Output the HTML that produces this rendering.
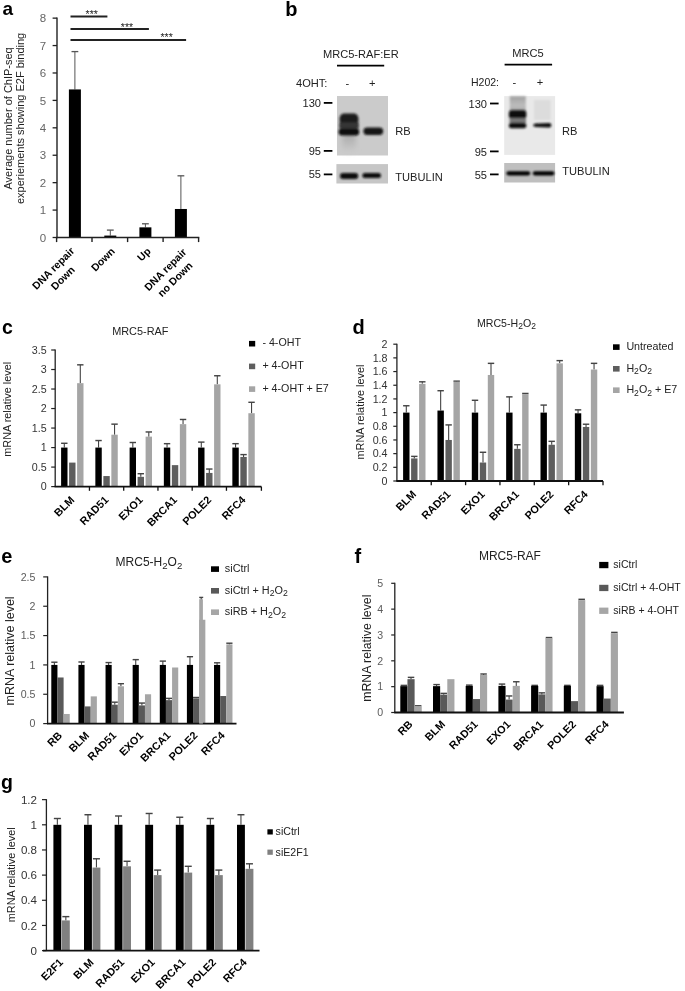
<!DOCTYPE html>
<html><head><meta charset="utf-8"><title>Figure</title>
<style>html,body{margin:0;padding:0;background:#fff;} svg{display:block;}</style></head>
<body><svg width="685" height="991" viewBox="0 0 685 991" font-family='"Liberation Sans", Arial, sans-serif'>
<defs>
<filter id="blur1" x="-20%" y="-50%" width="140%" height="200%"><feGaussianBlur stdDeviation="0.8"/></filter>
<filter id="blur4" x="-50%" y="-50%" width="200%" height="200%"><feGaussianBlur stdDeviation="2.5"/></filter>
<filter id="blur2" x="-10%" y="-10%" width="120%" height="120%"><feGaussianBlur stdDeviation="0.5"/></filter>
<filter id="blur3" x="-30%" y="-30%" width="160%" height="160%"><feGaussianBlur stdDeviation="1.3"/></filter>
</defs>
<rect x="0" y="0" width="685" height="991" fill="#fff"/>
<text x="2.40" y="15.00" font-size="19" fill="#000" text-anchor="start" font-weight="bold" font-family='"Liberation Sans", Arial, sans-serif'>a</text>
<text x="11.80" y="118.40" font-size="11" fill="#222" text-anchor="middle" transform="rotate(-90 11.80 118.40)" font-family='"Liberation Sans", Arial, sans-serif'>Average number of ChIP-seq</text>
<text x="24.10" y="118.40" font-size="11" fill="#222" text-anchor="middle" transform="rotate(-90 24.10 118.40)" font-family='"Liberation Sans", Arial, sans-serif'>experiements showing E2F binding</text>
<line x1="52.60" y1="237.50" x2="57.00" y2="237.50" stroke="#222" stroke-width="1.3"/>
<text x="46.10" y="241.60" font-size="11.5" fill="#666" text-anchor="end" font-family='"Liberation Sans", Arial, sans-serif'>0</text>
<line x1="52.60" y1="210.08" x2="57.00" y2="210.08" stroke="#222" stroke-width="1.3"/>
<text x="46.10" y="214.18" font-size="11.5" fill="#666" text-anchor="end" font-family='"Liberation Sans", Arial, sans-serif'>1</text>
<line x1="52.60" y1="182.66" x2="57.00" y2="182.66" stroke="#222" stroke-width="1.3"/>
<text x="46.10" y="186.76" font-size="11.5" fill="#666" text-anchor="end" font-family='"Liberation Sans", Arial, sans-serif'>2</text>
<line x1="52.60" y1="155.24" x2="57.00" y2="155.24" stroke="#222" stroke-width="1.3"/>
<text x="46.10" y="159.34" font-size="11.5" fill="#666" text-anchor="end" font-family='"Liberation Sans", Arial, sans-serif'>3</text>
<line x1="52.60" y1="127.82" x2="57.00" y2="127.82" stroke="#222" stroke-width="1.3"/>
<text x="46.10" y="131.92" font-size="11.5" fill="#666" text-anchor="end" font-family='"Liberation Sans", Arial, sans-serif'>4</text>
<line x1="52.60" y1="100.40" x2="57.00" y2="100.40" stroke="#222" stroke-width="1.3"/>
<text x="46.10" y="104.50" font-size="11.5" fill="#666" text-anchor="end" font-family='"Liberation Sans", Arial, sans-serif'>5</text>
<line x1="52.60" y1="72.98" x2="57.00" y2="72.98" stroke="#222" stroke-width="1.3"/>
<text x="46.10" y="77.08" font-size="11.5" fill="#666" text-anchor="end" font-family='"Liberation Sans", Arial, sans-serif'>6</text>
<line x1="52.60" y1="45.56" x2="57.00" y2="45.56" stroke="#222" stroke-width="1.3"/>
<text x="46.10" y="49.66" font-size="11.5" fill="#666" text-anchor="end" font-family='"Liberation Sans", Arial, sans-serif'>7</text>
<line x1="52.60" y1="18.14" x2="57.00" y2="18.14" stroke="#222" stroke-width="1.3"/>
<text x="46.10" y="22.24" font-size="11.5" fill="#666" text-anchor="end" font-family='"Liberation Sans", Arial, sans-serif'>8</text>
<line x1="74.90" y1="89.43" x2="74.90" y2="51.59" stroke="#555" stroke-width="1.0"/>
<line x1="71.50" y1="51.59" x2="78.30" y2="51.59" stroke="#555" stroke-width="1.3"/>
<rect x="68.90" y="89.43" width="12.00" height="148.07" fill="#000"/>
<line x1="110.30" y1="235.58" x2="110.30" y2="230.10" stroke="#555" stroke-width="1.0"/>
<line x1="106.90" y1="230.10" x2="113.70" y2="230.10" stroke="#555" stroke-width="1.3"/>
<rect x="104.30" y="235.58" width="12.00" height="1.92" fill="#000"/>
<line x1="145.40" y1="227.35" x2="145.40" y2="223.79" stroke="#555" stroke-width="1.0"/>
<line x1="142.00" y1="223.79" x2="148.80" y2="223.79" stroke="#555" stroke-width="1.3"/>
<rect x="139.40" y="227.35" width="12.00" height="10.15" fill="#000"/>
<line x1="180.90" y1="208.98" x2="180.90" y2="175.81" stroke="#555" stroke-width="1.0"/>
<line x1="177.50" y1="175.81" x2="184.30" y2="175.81" stroke="#555" stroke-width="1.3"/>
<rect x="174.90" y="208.98" width="12.00" height="28.52" fill="#000"/>
<line x1="57.00" y1="17.40" x2="57.00" y2="238.20" stroke="#222" stroke-width="1.4"/>
<line x1="56.30" y1="237.50" x2="199.30" y2="237.50" stroke="#222" stroke-width="1.6"/>
<line x1="56.60" y1="237.50" x2="56.60" y2="242.10" stroke="#222" stroke-width="1.4"/>
<line x1="92.00" y1="237.50" x2="92.00" y2="242.10" stroke="#222" stroke-width="1.4"/>
<line x1="127.60" y1="237.50" x2="127.60" y2="242.10" stroke="#222" stroke-width="1.4"/>
<line x1="163.10" y1="237.50" x2="163.10" y2="242.10" stroke="#222" stroke-width="1.4"/>
<line x1="198.60" y1="237.50" x2="198.60" y2="242.10" stroke="#222" stroke-width="1.4"/>
<line x1="70.50" y1="16.50" x2="107.40" y2="16.50" stroke="#222" stroke-width="1.8"/>
<text x="91.70" y="18.10" font-size="10.5" fill="#222" text-anchor="middle" font-family='"Liberation Sans", Arial, sans-serif'>***</text>
<line x1="70.50" y1="29.00" x2="148.90" y2="29.00" stroke="#222" stroke-width="1.8"/>
<text x="127.00" y="30.80" font-size="10.5" fill="#222" text-anchor="middle" font-family='"Liberation Sans", Arial, sans-serif'>***</text>
<line x1="70.50" y1="40.00" x2="186.10" y2="40.00" stroke="#222" stroke-width="1.8"/>
<text x="166.60" y="40.70" font-size="10.5" fill="#222" text-anchor="middle" font-family='"Liberation Sans", Arial, sans-serif'>***</text>
<g transform="rotate(-45 55.85 270.95)">
<text font-size="10.5" font-weight="bold" text-anchor="middle" font-family='"Liberation Sans", Arial, sans-serif' fill="#000"><tspan x="55.85" y="270.95">DNA repair</tspan><tspan x="55.85" y="284.55">Down</tspan></text>
</g>
<text x="115.60" y="251.90" font-size="10.5" fill="#000" text-anchor="end" font-weight="bold" transform="rotate(-45 115.60 251.90)" font-family='"Liberation Sans", Arial, sans-serif'>Down</text>
<text x="151.50" y="251.90" font-size="10.5" fill="#000" text-anchor="end" font-weight="bold" transform="rotate(-45 151.50 251.90)" font-family='"Liberation Sans", Arial, sans-serif'>Up</text>
<g transform="rotate(-45 167.95 272.15)">
<text font-size="10.5" font-weight="bold" text-anchor="middle" font-family='"Liberation Sans", Arial, sans-serif' fill="#000"><tspan x="167.95" y="272.15">DNA repair</tspan><tspan x="167.95" y="285.75">no Down</tspan></text>
</g>
<text x="285.20" y="16.00" font-size="20" fill="#000" text-anchor="start" font-weight="bold" font-family='"Liberation Sans", Arial, sans-serif'>b</text>
<text x="360.80" y="58.40" font-size="11.1" fill="#222" text-anchor="middle" font-family='"Liberation Sans", Arial, sans-serif'>MRC5-RAF:ER</text>
<line x1="337.00" y1="65.70" x2="384.20" y2="65.70" stroke="#000" stroke-width="1.8"/>
<text x="296.00" y="87.00" font-size="11.1" fill="#222" text-anchor="start" font-family='"Liberation Sans", Arial, sans-serif'>4OHT:</text>
<text x="347.30" y="87.00" font-size="11.1" fill="#222" text-anchor="middle" font-family='"Liberation Sans", Arial, sans-serif'>-</text>
<text x="372.30" y="87.00" font-size="11.1" fill="#222" text-anchor="middle" font-family='"Liberation Sans", Arial, sans-serif'>+</text>
<text x="321.00" y="106.70" font-size="11.1" fill="#222" text-anchor="end" font-family='"Liberation Sans", Arial, sans-serif'>130</text>
<line x1="323.80" y1="102.90" x2="332.40" y2="102.90" stroke="#000" stroke-width="1.8"/>
<text x="321.00" y="154.70" font-size="11.1" fill="#222" text-anchor="end" font-family='"Liberation Sans", Arial, sans-serif'>95</text>
<line x1="323.80" y1="150.90" x2="332.40" y2="150.90" stroke="#000" stroke-width="1.8"/>
<text x="321.00" y="178.20" font-size="11.1" fill="#222" text-anchor="end" font-family='"Liberation Sans", Arial, sans-serif'>55</text>
<line x1="323.80" y1="174.40" x2="332.40" y2="174.40" stroke="#000" stroke-width="1.8"/>
<text x="395.30" y="135.20" font-size="11.1" fill="#222" text-anchor="start" font-family='"Liberation Sans", Arial, sans-serif'>RB</text>
<text x="395.30" y="180.60" font-size="11.1" fill="#222" text-anchor="start" font-family='"Liberation Sans", Arial, sans-serif'>TUBULIN</text>
<g filter="url(#blur2)">
<rect x="337.00" y="96.00" width="51.00" height="59.50" fill="#cbcbcb"/>
</g>
<defs><linearGradient id="tail" x1="0" y1="0" x2="0" y2="1"><stop offset="0" stop-color="#a8a8a8"/><stop offset="1" stop-color="#cbcbcb"/></linearGradient></defs>
<g filter="url(#blur4)">
<rect x="342" y="133" width="14" height="19" rx="5" fill="url(#tail)"/>
</g>
<g filter="url(#blur1)">
<rect x="339.6" y="113.6" width="18.8" height="11.5" rx="4.5" fill="#1c1c1c"/>
<rect x="339.2" y="122.5" width="19.6" height="6" fill="#363636"/>
<rect x="338.6" y="128.3" width="20.6" height="7.2" rx="3.5" fill="#0e0e0e"/>
<rect x="363.4" y="127.5" width="19.8" height="7.4" rx="3.7" fill="#141414"/>
</g>
<g filter="url(#blur2)">
<rect x="336.40" y="164.10" width="51.60" height="19.40" fill="#c6c6c6"/>
</g>
<g filter="url(#blur1)">
<rect x="340.0" y="172.9" width="18.2" height="6.0" rx="3.0" fill="#080808"/>
<rect x="362.4" y="172.9" width="18.6" height="5.0" rx="2.5" fill="#0a0a0a"/>
</g>
<text x="528.00" y="57.00" font-size="11.1" fill="#222" text-anchor="middle" font-family='"Liberation Sans", Arial, sans-serif'>MRC5</text>
<line x1="504.60" y1="64.60" x2="552.10" y2="64.60" stroke="#000" stroke-width="1.8"/>
<text x="471.00" y="86.00" font-size="10.5" fill="#222" text-anchor="start" font-family='"Liberation Sans", Arial, sans-serif'>H202:</text>
<text x="514.40" y="86.00" font-size="11.1" fill="#222" text-anchor="middle" font-family='"Liberation Sans", Arial, sans-serif'>-</text>
<text x="540.00" y="86.00" font-size="11.1" fill="#222" text-anchor="middle" font-family='"Liberation Sans", Arial, sans-serif'>+</text>
<text x="487.00" y="108.10" font-size="11.1" fill="#222" text-anchor="end" font-family='"Liberation Sans", Arial, sans-serif'>130</text>
<line x1="490.00" y1="103.50" x2="498.60" y2="103.50" stroke="#000" stroke-width="1.8"/>
<text x="487.00" y="156.00" font-size="11.1" fill="#222" text-anchor="end" font-family='"Liberation Sans", Arial, sans-serif'>95</text>
<line x1="490.00" y1="151.40" x2="498.60" y2="151.40" stroke="#000" stroke-width="1.8"/>
<text x="487.00" y="179.00" font-size="11.1" fill="#222" text-anchor="end" font-family='"Liberation Sans", Arial, sans-serif'>55</text>
<line x1="490.00" y1="174.40" x2="498.60" y2="174.40" stroke="#000" stroke-width="1.8"/>
<text x="562.00" y="135.00" font-size="11.1" fill="#222" text-anchor="start" font-family='"Liberation Sans", Arial, sans-serif'>RB</text>
<text x="562.20" y="175.00" font-size="11.1" fill="#222" text-anchor="start" font-family='"Liberation Sans", Arial, sans-serif'>TUBULIN</text>
<g filter="url(#blur2)">
<rect x="504.20" y="96.10" width="50.90" height="58.80" fill="#e9e9e9"/>
</g>
<defs><linearGradient id="smear" x1="0" y1="0" x2="0" y2="1"><stop offset="0" stop-color="#a0a0a0"/><stop offset="0.55" stop-color="#bdbdbd"/><stop offset="1" stop-color="#a8a8a8"/></linearGradient></defs>
<g filter="url(#blur3)">
<rect x="509.8" y="96.3" width="16" height="16" fill="url(#smear)"/>
<rect x="534" y="100" width="16.5" height="20" fill="#dcdcdc"/>
</g>
<g filter="url(#blur1)">
<rect x="508.9" y="110.3" width="17.4" height="8.6" rx="3" fill="#0e0e0e"/>
<rect x="509.5" y="118.2" width="16.5" height="5.0" fill="#7a7a7a"/>
<rect x="508.9" y="122.7" width="17.4" height="5.6" rx="2.5" fill="#0a0a0a"/>
<path d="M533.2 125.3 Q533.2 123.6 536 123.6 L549 123.0 Q551.4 123.0 551.4 125.2 Q551.4 127.4 549 127.4 L536 127.1 Q533.2 127.1 533.2 125.3 Z" fill="#0c0c0c"/>
</g>
<g filter="url(#blur2)">
<rect x="504.20" y="163.00" width="50.90" height="19.50" fill="#bfbfbf"/>
</g>
<g filter="url(#blur1)">
<rect x="506.4" y="171.2" width="23.8" height="4.2" rx="2.1" fill="#060606"/>
<rect x="532.8" y="171.2" width="21.6" height="4.2" rx="2.1" fill="#060606"/>
</g>
<text x="1.90" y="333.80" font-size="19.5" fill="#000" text-anchor="start" font-weight="bold" font-family='"Liberation Sans", Arial, sans-serif'>c</text>
<line x1="51.20" y1="486.60" x2="55.20" y2="486.60" stroke="#222" stroke-width="1.2"/>
<text x="46.60" y="490.45" font-size="10.7" fill="#333" text-anchor="end" font-family='"Liberation Sans", Arial, sans-serif'>0</text>
<line x1="51.20" y1="467.09" x2="55.20" y2="467.09" stroke="#222" stroke-width="1.2"/>
<text x="46.60" y="470.94" font-size="10.7" fill="#333" text-anchor="end" font-family='"Liberation Sans", Arial, sans-serif'>0.5</text>
<line x1="51.20" y1="447.57" x2="55.20" y2="447.57" stroke="#222" stroke-width="1.2"/>
<text x="46.60" y="451.42" font-size="10.7" fill="#333" text-anchor="end" font-family='"Liberation Sans", Arial, sans-serif'>1</text>
<line x1="51.20" y1="428.06" x2="55.20" y2="428.06" stroke="#222" stroke-width="1.2"/>
<text x="46.60" y="431.91" font-size="10.7" fill="#333" text-anchor="end" font-family='"Liberation Sans", Arial, sans-serif'>1.5</text>
<line x1="51.20" y1="408.54" x2="55.20" y2="408.54" stroke="#222" stroke-width="1.2"/>
<text x="46.60" y="412.39" font-size="10.7" fill="#333" text-anchor="end" font-family='"Liberation Sans", Arial, sans-serif'>2</text>
<line x1="51.20" y1="389.03" x2="55.20" y2="389.03" stroke="#222" stroke-width="1.2"/>
<text x="46.60" y="392.88" font-size="10.7" fill="#333" text-anchor="end" font-family='"Liberation Sans", Arial, sans-serif'>2.5</text>
<line x1="51.20" y1="369.51" x2="55.20" y2="369.51" stroke="#222" stroke-width="1.2"/>
<text x="46.60" y="373.36" font-size="10.7" fill="#333" text-anchor="end" font-family='"Liberation Sans", Arial, sans-serif'>3</text>
<line x1="51.20" y1="350.00" x2="55.20" y2="350.00" stroke="#222" stroke-width="1.2"/>
<text x="46.60" y="353.85" font-size="10.7" fill="#333" text-anchor="end" font-family='"Liberation Sans", Arial, sans-serif'>3.5</text>
<line x1="64.30" y1="447.57" x2="64.30" y2="443.28" stroke="#444" stroke-width="1.1"/>
<line x1="61.10" y1="443.28" x2="67.50" y2="443.28" stroke="#444" stroke-width="1.4300000000000002"/>
<rect x="61.10" y="447.57" width="6.40" height="39.03" fill="#000"/>
<rect x="69.10" y="462.60" width="6.40" height="24.00" fill="#5e5e5e"/>
<line x1="80.30" y1="383.17" x2="80.30" y2="364.83" stroke="#444" stroke-width="1.1"/>
<line x1="77.10" y1="364.83" x2="83.50" y2="364.83" stroke="#444" stroke-width="1.4300000000000002"/>
<rect x="77.10" y="383.17" width="6.40" height="103.43" fill="#a5a5a5"/>
<line x1="98.55" y1="447.57" x2="98.55" y2="440.54" stroke="#444" stroke-width="1.1"/>
<line x1="95.35" y1="440.54" x2="101.75" y2="440.54" stroke="#444" stroke-width="1.4300000000000002"/>
<rect x="95.35" y="447.57" width="6.40" height="39.03" fill="#000"/>
<rect x="103.35" y="476.06" width="6.40" height="10.54" fill="#5e5e5e"/>
<line x1="114.55" y1="434.69" x2="114.55" y2="424.15" stroke="#444" stroke-width="1.1"/>
<line x1="111.35" y1="424.15" x2="117.75" y2="424.15" stroke="#444" stroke-width="1.4300000000000002"/>
<rect x="111.35" y="434.69" width="6.40" height="51.91" fill="#a5a5a5"/>
<line x1="132.80" y1="447.57" x2="132.80" y2="442.50" stroke="#444" stroke-width="1.1"/>
<line x1="129.60" y1="442.50" x2="136.00" y2="442.50" stroke="#444" stroke-width="1.4300000000000002"/>
<rect x="129.60" y="447.57" width="6.40" height="39.03" fill="#000"/>
<line x1="140.80" y1="476.84" x2="140.80" y2="473.72" stroke="#444" stroke-width="1.1"/>
<line x1="137.60" y1="473.72" x2="144.00" y2="473.72" stroke="#444" stroke-width="1.4300000000000002"/>
<rect x="137.60" y="476.84" width="6.40" height="9.76" fill="#5e5e5e"/>
<line x1="148.80" y1="436.64" x2="148.80" y2="431.96" stroke="#444" stroke-width="1.1"/>
<line x1="145.60" y1="431.96" x2="152.00" y2="431.96" stroke="#444" stroke-width="1.4300000000000002"/>
<rect x="145.60" y="436.64" width="6.40" height="49.96" fill="#a5a5a5"/>
<line x1="167.05" y1="447.57" x2="167.05" y2="443.67" stroke="#444" stroke-width="1.1"/>
<line x1="163.85" y1="443.67" x2="170.25" y2="443.67" stroke="#444" stroke-width="1.4300000000000002"/>
<rect x="163.85" y="447.57" width="6.40" height="39.03" fill="#000"/>
<rect x="171.85" y="465.13" width="6.40" height="21.47" fill="#5e5e5e"/>
<line x1="183.05" y1="424.15" x2="183.05" y2="419.47" stroke="#444" stroke-width="1.1"/>
<line x1="179.85" y1="419.47" x2="186.25" y2="419.47" stroke="#444" stroke-width="1.4300000000000002"/>
<rect x="179.85" y="424.15" width="6.40" height="62.45" fill="#a5a5a5"/>
<line x1="201.30" y1="447.57" x2="201.30" y2="442.11" stroke="#444" stroke-width="1.1"/>
<line x1="198.10" y1="442.11" x2="204.50" y2="442.11" stroke="#444" stroke-width="1.4300000000000002"/>
<rect x="198.10" y="447.57" width="6.40" height="39.03" fill="#000"/>
<line x1="209.30" y1="472.94" x2="209.30" y2="469.04" stroke="#444" stroke-width="1.1"/>
<line x1="206.10" y1="469.04" x2="212.50" y2="469.04" stroke="#444" stroke-width="1.4300000000000002"/>
<rect x="206.10" y="472.94" width="6.40" height="13.66" fill="#5e5e5e"/>
<line x1="217.30" y1="384.34" x2="217.30" y2="375.75" stroke="#444" stroke-width="1.1"/>
<line x1="214.10" y1="375.75" x2="220.50" y2="375.75" stroke="#444" stroke-width="1.4300000000000002"/>
<rect x="214.10" y="384.34" width="6.40" height="102.26" fill="#a5a5a5"/>
<line x1="235.55" y1="447.57" x2="235.55" y2="443.67" stroke="#444" stroke-width="1.1"/>
<line x1="232.35" y1="443.67" x2="238.75" y2="443.67" stroke="#444" stroke-width="1.4300000000000002"/>
<rect x="232.35" y="447.57" width="6.40" height="39.03" fill="#000"/>
<line x1="243.55" y1="456.94" x2="243.55" y2="454.60" stroke="#444" stroke-width="1.1"/>
<line x1="240.35" y1="454.60" x2="246.75" y2="454.60" stroke="#444" stroke-width="1.4300000000000002"/>
<rect x="240.35" y="456.94" width="6.40" height="29.66" fill="#5e5e5e"/>
<line x1="251.55" y1="413.22" x2="251.55" y2="402.30" stroke="#444" stroke-width="1.1"/>
<line x1="248.35" y1="402.30" x2="254.75" y2="402.30" stroke="#444" stroke-width="1.4300000000000002"/>
<rect x="248.35" y="413.22" width="6.40" height="73.38" fill="#a5a5a5"/>
<line x1="55.20" y1="349.50" x2="55.20" y2="486.60" stroke="#222" stroke-width="1.3"/>
<line x1="54.60" y1="486.60" x2="261.40" y2="486.60" stroke="#111" stroke-width="1.8"/>
<line x1="89.45" y1="486.60" x2="89.45" y2="490.80" stroke="#111" stroke-width="1.3"/>
<line x1="123.70" y1="486.60" x2="123.70" y2="490.80" stroke="#111" stroke-width="1.3"/>
<line x1="157.95" y1="486.60" x2="157.95" y2="490.80" stroke="#111" stroke-width="1.3"/>
<line x1="192.20" y1="486.60" x2="192.20" y2="490.80" stroke="#111" stroke-width="1.3"/>
<line x1="226.45" y1="486.60" x2="226.45" y2="490.80" stroke="#111" stroke-width="1.3"/>
<line x1="261.40" y1="486.60" x2="261.40" y2="490.80" stroke="#111" stroke-width="1.3"/>
<text x="75.00" y="500.60" font-size="10.8" fill="#000" text-anchor="end" font-weight="bold" transform="rotate(-45 75.00 500.60)" font-family='"Liberation Sans", Arial, sans-serif'>BLM</text>
<text x="109.25" y="500.60" font-size="10.8" fill="#000" text-anchor="end" font-weight="bold" transform="rotate(-45 109.25 500.60)" font-family='"Liberation Sans", Arial, sans-serif'>RAD51</text>
<text x="143.50" y="500.60" font-size="10.8" fill="#000" text-anchor="end" font-weight="bold" transform="rotate(-45 143.50 500.60)" font-family='"Liberation Sans", Arial, sans-serif'>EXO1</text>
<text x="177.75" y="500.60" font-size="10.8" fill="#000" text-anchor="end" font-weight="bold" transform="rotate(-45 177.75 500.60)" font-family='"Liberation Sans", Arial, sans-serif'>BRCA1</text>
<text x="212.00" y="500.60" font-size="10.8" fill="#000" text-anchor="end" font-weight="bold" transform="rotate(-45 212.00 500.60)" font-family='"Liberation Sans", Arial, sans-serif'>POLE2</text>
<text x="246.25" y="500.60" font-size="10.8" fill="#000" text-anchor="end" font-weight="bold" transform="rotate(-45 246.25 500.60)" font-family='"Liberation Sans", Arial, sans-serif'>RFC4</text>
<text x="140.30" y="335.40" font-size="10.9" fill="#222" text-anchor="middle" font-family='"Liberation Sans", Arial, sans-serif'>MRC5-RAF</text>
<text x="10.90" y="409.30" font-size="10.9" fill="#222" text-anchor="middle" transform="rotate(-90 10.90 409.30)" font-family='"Liberation Sans", Arial, sans-serif'>mRNA relative level</text>
<rect x="249.00" y="340.90" width="6.20" height="5.60" fill="#000"/>
<text x="262.40" y="346.10" font-size="10.7" fill="#222" text-anchor="start" font-family='"Liberation Sans", Arial, sans-serif'>- 4-OHT</text>
<rect x="249.00" y="363.60" width="6.20" height="5.60" fill="#5e5e5e"/>
<text x="262.40" y="368.80" font-size="10.7" fill="#222" text-anchor="start" font-family='"Liberation Sans", Arial, sans-serif'>+ 4-OHT</text>
<rect x="249.00" y="386.30" width="6.20" height="5.60" fill="#a5a5a5"/>
<text x="262.40" y="391.50" font-size="10.7" fill="#222" text-anchor="start" font-family='"Liberation Sans", Arial, sans-serif'>+ 4-OHT + E7</text>
<text x="352.60" y="333.60" font-size="20" fill="#000" text-anchor="start" font-weight="bold" font-family='"Liberation Sans", Arial, sans-serif'>d</text>
<line x1="393.30" y1="481.00" x2="396.90" y2="481.00" stroke="#222" stroke-width="1.2"/>
<text x="387.50" y="484.85" font-size="10.7" fill="#333" text-anchor="end" font-family='"Liberation Sans", Arial, sans-serif'>0</text>
<line x1="393.30" y1="467.32" x2="396.90" y2="467.32" stroke="#222" stroke-width="1.2"/>
<text x="387.50" y="471.17" font-size="10.7" fill="#333" text-anchor="end" font-family='"Liberation Sans", Arial, sans-serif'>0.2</text>
<line x1="393.30" y1="453.64" x2="396.90" y2="453.64" stroke="#222" stroke-width="1.2"/>
<text x="387.50" y="457.49" font-size="10.7" fill="#333" text-anchor="end" font-family='"Liberation Sans", Arial, sans-serif'>0.4</text>
<line x1="393.30" y1="439.96" x2="396.90" y2="439.96" stroke="#222" stroke-width="1.2"/>
<text x="387.50" y="443.81" font-size="10.7" fill="#333" text-anchor="end" font-family='"Liberation Sans", Arial, sans-serif'>0.6</text>
<line x1="393.30" y1="426.28" x2="396.90" y2="426.28" stroke="#222" stroke-width="1.2"/>
<text x="387.50" y="430.13" font-size="10.7" fill="#333" text-anchor="end" font-family='"Liberation Sans", Arial, sans-serif'>0.8</text>
<line x1="393.30" y1="412.60" x2="396.90" y2="412.60" stroke="#222" stroke-width="1.2"/>
<text x="387.50" y="416.45" font-size="10.7" fill="#333" text-anchor="end" font-family='"Liberation Sans", Arial, sans-serif'>1</text>
<line x1="393.30" y1="398.92" x2="396.90" y2="398.92" stroke="#222" stroke-width="1.2"/>
<text x="387.50" y="402.77" font-size="10.7" fill="#333" text-anchor="end" font-family='"Liberation Sans", Arial, sans-serif'>1.2</text>
<line x1="393.30" y1="385.24" x2="396.90" y2="385.24" stroke="#222" stroke-width="1.2"/>
<text x="387.50" y="389.09" font-size="10.7" fill="#333" text-anchor="end" font-family='"Liberation Sans", Arial, sans-serif'>1.4</text>
<line x1="393.30" y1="371.56" x2="396.90" y2="371.56" stroke="#222" stroke-width="1.2"/>
<text x="387.50" y="375.41" font-size="10.7" fill="#333" text-anchor="end" font-family='"Liberation Sans", Arial, sans-serif'>1.6</text>
<line x1="393.30" y1="357.88" x2="396.90" y2="357.88" stroke="#222" stroke-width="1.2"/>
<text x="387.50" y="361.73" font-size="10.7" fill="#333" text-anchor="end" font-family='"Liberation Sans", Arial, sans-serif'>1.8</text>
<line x1="393.30" y1="344.20" x2="396.90" y2="344.20" stroke="#222" stroke-width="1.2"/>
<text x="387.50" y="348.05" font-size="10.7" fill="#333" text-anchor="end" font-family='"Liberation Sans", Arial, sans-serif'>2</text>
<line x1="406.30" y1="412.60" x2="406.30" y2="405.76" stroke="#444" stroke-width="1.1"/>
<line x1="403.10" y1="405.76" x2="409.50" y2="405.76" stroke="#444" stroke-width="1.4300000000000002"/>
<rect x="403.10" y="412.60" width="6.40" height="68.40" fill="#000"/>
<line x1="414.30" y1="458.43" x2="414.30" y2="456.38" stroke="#444" stroke-width="1.1"/>
<line x1="411.10" y1="456.38" x2="417.50" y2="456.38" stroke="#444" stroke-width="1.4300000000000002"/>
<rect x="411.10" y="458.43" width="6.40" height="22.57" fill="#5e5e5e"/>
<line x1="422.30" y1="383.87" x2="422.30" y2="381.82" stroke="#444" stroke-width="1.1"/>
<line x1="419.10" y1="381.82" x2="425.50" y2="381.82" stroke="#444" stroke-width="1.4300000000000002"/>
<rect x="419.10" y="383.87" width="6.40" height="97.13" fill="#a5a5a5"/>
<line x1="440.65" y1="410.55" x2="440.65" y2="390.71" stroke="#444" stroke-width="1.1"/>
<line x1="437.45" y1="390.71" x2="443.85" y2="390.71" stroke="#444" stroke-width="1.4300000000000002"/>
<rect x="437.45" y="410.55" width="6.40" height="70.45" fill="#000"/>
<line x1="448.65" y1="439.96" x2="448.65" y2="424.91" stroke="#444" stroke-width="1.1"/>
<line x1="445.45" y1="424.91" x2="451.85" y2="424.91" stroke="#444" stroke-width="1.4300000000000002"/>
<rect x="445.45" y="439.96" width="6.40" height="41.04" fill="#5e5e5e"/>
<line x1="456.65" y1="381.82" x2="456.65" y2="381.14" stroke="#444" stroke-width="1.1"/>
<line x1="453.45" y1="381.14" x2="459.85" y2="381.14" stroke="#444" stroke-width="1.4300000000000002"/>
<rect x="453.45" y="381.82" width="6.40" height="99.18" fill="#a5a5a5"/>
<line x1="475.00" y1="412.60" x2="475.00" y2="400.29" stroke="#444" stroke-width="1.1"/>
<line x1="471.80" y1="400.29" x2="478.20" y2="400.29" stroke="#444" stroke-width="1.4300000000000002"/>
<rect x="471.80" y="412.60" width="6.40" height="68.40" fill="#000"/>
<line x1="483.00" y1="462.53" x2="483.00" y2="452.27" stroke="#444" stroke-width="1.1"/>
<line x1="479.80" y1="452.27" x2="486.20" y2="452.27" stroke="#444" stroke-width="1.4300000000000002"/>
<rect x="479.80" y="462.53" width="6.40" height="18.47" fill="#5e5e5e"/>
<line x1="491.00" y1="374.98" x2="491.00" y2="363.35" stroke="#444" stroke-width="1.1"/>
<line x1="487.80" y1="363.35" x2="494.20" y2="363.35" stroke="#444" stroke-width="1.4300000000000002"/>
<rect x="487.80" y="374.98" width="6.40" height="106.02" fill="#a5a5a5"/>
<line x1="509.35" y1="412.60" x2="509.35" y2="396.87" stroke="#444" stroke-width="1.1"/>
<line x1="506.15" y1="396.87" x2="512.55" y2="396.87" stroke="#444" stroke-width="1.4300000000000002"/>
<rect x="506.15" y="412.60" width="6.40" height="68.40" fill="#000"/>
<line x1="517.35" y1="448.85" x2="517.35" y2="444.75" stroke="#444" stroke-width="1.1"/>
<line x1="514.15" y1="444.75" x2="520.55" y2="444.75" stroke="#444" stroke-width="1.4300000000000002"/>
<rect x="514.15" y="448.85" width="6.40" height="32.15" fill="#5e5e5e"/>
<line x1="525.35" y1="394.13" x2="525.35" y2="393.45" stroke="#444" stroke-width="1.1"/>
<line x1="522.15" y1="393.45" x2="528.55" y2="393.45" stroke="#444" stroke-width="1.4300000000000002"/>
<rect x="522.15" y="394.13" width="6.40" height="86.87" fill="#a5a5a5"/>
<line x1="543.70" y1="412.60" x2="543.70" y2="405.08" stroke="#444" stroke-width="1.1"/>
<line x1="540.50" y1="405.08" x2="546.90" y2="405.08" stroke="#444" stroke-width="1.4300000000000002"/>
<rect x="540.50" y="412.60" width="6.40" height="68.40" fill="#000"/>
<line x1="551.70" y1="444.75" x2="551.70" y2="441.33" stroke="#444" stroke-width="1.1"/>
<line x1="548.50" y1="441.33" x2="554.90" y2="441.33" stroke="#444" stroke-width="1.4300000000000002"/>
<rect x="548.50" y="444.75" width="6.40" height="36.25" fill="#5e5e5e"/>
<line x1="559.70" y1="363.35" x2="559.70" y2="360.62" stroke="#444" stroke-width="1.1"/>
<line x1="556.50" y1="360.62" x2="562.90" y2="360.62" stroke="#444" stroke-width="1.4300000000000002"/>
<rect x="556.50" y="363.35" width="6.40" height="117.65" fill="#a5a5a5"/>
<line x1="578.05" y1="413.28" x2="578.05" y2="409.86" stroke="#444" stroke-width="1.1"/>
<line x1="574.85" y1="409.86" x2="581.25" y2="409.86" stroke="#444" stroke-width="1.4300000000000002"/>
<rect x="574.85" y="413.28" width="6.40" height="67.72" fill="#000"/>
<line x1="586.05" y1="426.96" x2="586.05" y2="424.23" stroke="#444" stroke-width="1.1"/>
<line x1="582.85" y1="424.23" x2="589.25" y2="424.23" stroke="#444" stroke-width="1.4300000000000002"/>
<rect x="582.85" y="426.96" width="6.40" height="54.04" fill="#5e5e5e"/>
<line x1="594.05" y1="369.51" x2="594.05" y2="363.35" stroke="#444" stroke-width="1.1"/>
<line x1="590.85" y1="363.35" x2="597.25" y2="363.35" stroke="#444" stroke-width="1.4300000000000002"/>
<rect x="590.85" y="369.51" width="6.40" height="111.49" fill="#a5a5a5"/>
<line x1="396.90" y1="343.70" x2="396.90" y2="481.00" stroke="#222" stroke-width="1.3"/>
<line x1="396.30" y1="481.00" x2="603.00" y2="481.00" stroke="#111" stroke-width="1.8"/>
<line x1="431.25" y1="481.00" x2="431.25" y2="485.20" stroke="#111" stroke-width="1.3"/>
<line x1="465.60" y1="481.00" x2="465.60" y2="485.20" stroke="#111" stroke-width="1.3"/>
<line x1="499.95" y1="481.00" x2="499.95" y2="485.20" stroke="#111" stroke-width="1.3"/>
<line x1="534.30" y1="481.00" x2="534.30" y2="485.20" stroke="#111" stroke-width="1.3"/>
<line x1="568.65" y1="481.00" x2="568.65" y2="485.20" stroke="#111" stroke-width="1.3"/>
<line x1="603.00" y1="481.00" x2="603.00" y2="485.20" stroke="#111" stroke-width="1.3"/>
<text x="416.80" y="495.00" font-size="10.8" fill="#000" text-anchor="end" font-weight="bold" transform="rotate(-45 416.80 495.00)" font-family='"Liberation Sans", Arial, sans-serif'>BLM</text>
<text x="451.15" y="495.00" font-size="10.8" fill="#000" text-anchor="end" font-weight="bold" transform="rotate(-45 451.15 495.00)" font-family='"Liberation Sans", Arial, sans-serif'>RAD51</text>
<text x="485.50" y="495.00" font-size="10.8" fill="#000" text-anchor="end" font-weight="bold" transform="rotate(-45 485.50 495.00)" font-family='"Liberation Sans", Arial, sans-serif'>EXO1</text>
<text x="519.85" y="495.00" font-size="10.8" fill="#000" text-anchor="end" font-weight="bold" transform="rotate(-45 519.85 495.00)" font-family='"Liberation Sans", Arial, sans-serif'>BRCA1</text>
<text x="554.20" y="495.00" font-size="10.8" fill="#000" text-anchor="end" font-weight="bold" transform="rotate(-45 554.20 495.00)" font-family='"Liberation Sans", Arial, sans-serif'>POLE2</text>
<text x="588.55" y="495.00" font-size="10.8" fill="#000" text-anchor="end" font-weight="bold" transform="rotate(-45 588.55 495.00)" font-family='"Liberation Sans", Arial, sans-serif'>RFC4</text>
<text x="506.40" y="326.60" font-size="10.6" fill="#222" text-anchor="middle" font-family='"Liberation Sans", Arial, sans-serif'>MRC5-H<tspan font-size="0.8em" dy="0.3em">2</tspan><tspan dy="-0.24em">O</tspan><tspan font-size="0.8em" dy="0.3em">2</tspan></text>
<text x="363.80" y="412.00" font-size="10.9" fill="#222" text-anchor="middle" transform="rotate(-90 363.80 412.00)" font-family='"Liberation Sans", Arial, sans-serif'>mRNA relative level</text>
<rect x="613.00" y="344.30" width="6.60" height="5.60" fill="#000"/>
<text x="626.40" y="349.90" font-size="10.7" fill="#222" text-anchor="start" font-family='"Liberation Sans", Arial, sans-serif'>Untreated</text>
<rect x="613.00" y="366.00" width="6.60" height="5.60" fill="#5e5e5e"/>
<text x="626.40" y="371.60" font-size="10.7" fill="#222" text-anchor="start" font-family='"Liberation Sans", Arial, sans-serif'>H<tspan font-size="0.8em" dy="0.3em">2</tspan><tspan dy="-0.24em">O</tspan><tspan font-size="0.8em" dy="0.3em">2</tspan></text>
<rect x="613.00" y="387.40" width="6.60" height="5.60" fill="#a5a5a5"/>
<text x="626.40" y="393.00" font-size="10.7" fill="#222" text-anchor="start" font-family='"Liberation Sans", Arial, sans-serif'>H<tspan font-size="0.8em" dy="0.3em">2</tspan><tspan dy="-0.24em">O</tspan><tspan font-size="0.8em" dy="0.3em">2</tspan><tspan dy="-0.24em"> + E7</tspan></text>
<text x="1.20" y="562.60" font-size="20" fill="#000" text-anchor="start" font-weight="bold" font-family='"Liberation Sans", Arial, sans-serif'>e</text>
<line x1="43.20" y1="723.60" x2="47.60" y2="723.60" stroke="#222" stroke-width="1.2"/>
<text x="35.40" y="727.42" font-size="10.6" fill="#5c5c5c" text-anchor="end" font-family='"Liberation Sans", Arial, sans-serif'>0</text>
<line x1="43.20" y1="694.26" x2="47.60" y2="694.26" stroke="#222" stroke-width="1.2"/>
<text x="35.40" y="698.08" font-size="10.6" fill="#5c5c5c" text-anchor="end" font-family='"Liberation Sans", Arial, sans-serif'>0.5</text>
<line x1="43.20" y1="664.92" x2="47.60" y2="664.92" stroke="#222" stroke-width="1.2"/>
<text x="35.40" y="668.74" font-size="10.6" fill="#5c5c5c" text-anchor="end" font-family='"Liberation Sans", Arial, sans-serif'>1</text>
<line x1="43.20" y1="635.58" x2="47.60" y2="635.58" stroke="#222" stroke-width="1.2"/>
<text x="35.40" y="639.40" font-size="10.6" fill="#5c5c5c" text-anchor="end" font-family='"Liberation Sans", Arial, sans-serif'>1.5</text>
<line x1="43.20" y1="606.24" x2="47.60" y2="606.24" stroke="#222" stroke-width="1.2"/>
<text x="35.40" y="610.06" font-size="10.6" fill="#5c5c5c" text-anchor="end" font-family='"Liberation Sans", Arial, sans-serif'>2</text>
<line x1="43.20" y1="576.90" x2="47.60" y2="576.90" stroke="#222" stroke-width="1.2"/>
<text x="35.40" y="580.72" font-size="10.6" fill="#5c5c5c" text-anchor="end" font-family='"Liberation Sans", Arial, sans-serif'>2.5</text>
<line x1="54.38" y1="664.92" x2="54.38" y2="662.22" stroke="#444" stroke-width="1.1"/>
<line x1="51.27" y1="662.22" x2="57.48" y2="662.22" stroke="#444" stroke-width="1.4300000000000002"/>
<rect x="51.30" y="664.92" width="6.15" height="58.68" fill="#000"/>
<rect x="57.45" y="677.48" width="6.15" height="46.12" fill="#595959"/>
<rect x="63.60" y="713.98" width="6.15" height="9.62" fill="#a6a6a6"/>
<line x1="81.50" y1="664.92" x2="81.50" y2="661.99" stroke="#444" stroke-width="1.1"/>
<line x1="78.40" y1="661.99" x2="84.59" y2="661.99" stroke="#444" stroke-width="1.4300000000000002"/>
<rect x="78.42" y="664.92" width="6.15" height="58.68" fill="#000"/>
<rect x="84.57" y="706.41" width="6.15" height="17.19" fill="#595959"/>
<rect x="90.72" y="696.37" width="6.15" height="27.23" fill="#a6a6a6"/>
<line x1="108.61" y1="664.92" x2="108.61" y2="662.57" stroke="#444" stroke-width="1.1"/>
<line x1="105.52" y1="662.57" x2="111.71" y2="662.57" stroke="#444" stroke-width="1.4300000000000002"/>
<rect x="105.54" y="664.92" width="6.15" height="58.68" fill="#000"/>
<line x1="114.77" y1="704.71" x2="114.77" y2="702.18" stroke="#444" stroke-width="1.1"/>
<line x1="111.67" y1="702.18" x2="117.86" y2="702.18" stroke="#444" stroke-width="1.4300000000000002"/>
<rect x="111.69" y="704.71" width="6.15" height="18.89" fill="#595959"/>
<line x1="120.91" y1="686.28" x2="120.91" y2="683.70" stroke="#444" stroke-width="1.1"/>
<line x1="117.81" y1="683.70" x2="124.01" y2="683.70" stroke="#444" stroke-width="1.4300000000000002"/>
<rect x="117.84" y="686.28" width="6.15" height="37.32" fill="#a6a6a6"/>
<line x1="135.73" y1="664.92" x2="135.73" y2="659.64" stroke="#444" stroke-width="1.1"/>
<line x1="132.63" y1="659.64" x2="138.83" y2="659.64" stroke="#444" stroke-width="1.4300000000000002"/>
<rect x="132.66" y="664.92" width="6.15" height="58.68" fill="#000"/>
<line x1="141.88" y1="705.41" x2="141.88" y2="703.06" stroke="#444" stroke-width="1.1"/>
<line x1="138.78" y1="703.06" x2="144.98" y2="703.06" stroke="#444" stroke-width="1.4300000000000002"/>
<rect x="138.81" y="705.41" width="6.15" height="18.19" fill="#595959"/>
<rect x="144.96" y="694.26" width="6.15" height="29.34" fill="#a6a6a6"/>
<line x1="162.85" y1="664.92" x2="162.85" y2="661.11" stroke="#444" stroke-width="1.1"/>
<line x1="159.75" y1="661.11" x2="165.95" y2="661.11" stroke="#444" stroke-width="1.4300000000000002"/>
<rect x="159.78" y="664.92" width="6.15" height="58.68" fill="#000"/>
<line x1="169.00" y1="700.13" x2="169.00" y2="698.37" stroke="#444" stroke-width="1.1"/>
<line x1="165.91" y1="698.37" x2="172.10" y2="698.37" stroke="#444" stroke-width="1.4300000000000002"/>
<rect x="165.93" y="700.13" width="6.15" height="23.47" fill="#595959"/>
<rect x="172.08" y="667.50" width="6.15" height="56.10" fill="#a6a6a6"/>
<line x1="189.97" y1="664.92" x2="189.97" y2="656.70" stroke="#444" stroke-width="1.1"/>
<line x1="186.87" y1="656.70" x2="193.07" y2="656.70" stroke="#444" stroke-width="1.4300000000000002"/>
<rect x="186.90" y="664.92" width="6.15" height="58.68" fill="#000"/>
<line x1="196.12" y1="698.37" x2="196.12" y2="697.49" stroke="#444" stroke-width="1.1"/>
<line x1="193.02" y1="697.49" x2="199.22" y2="697.49" stroke="#444" stroke-width="1.4300000000000002"/>
<rect x="193.05" y="698.37" width="6.15" height="25.23" fill="#595959"/>
<rect x="199.20" y="619.74" width="6.15" height="103.86" fill="#a6a6a6"/>
<line x1="217.09" y1="664.92" x2="217.09" y2="662.81" stroke="#444" stroke-width="1.1"/>
<line x1="213.99" y1="662.81" x2="220.19" y2="662.81" stroke="#444" stroke-width="1.4300000000000002"/>
<rect x="214.02" y="664.92" width="6.15" height="58.68" fill="#000"/>
<rect x="220.17" y="696.02" width="6.15" height="27.58" fill="#595959"/>
<line x1="229.39" y1="644.38" x2="229.39" y2="643.21" stroke="#444" stroke-width="1.1"/>
<line x1="226.29" y1="643.21" x2="232.49" y2="643.21" stroke="#444" stroke-width="1.4300000000000002"/>
<rect x="226.32" y="644.38" width="6.15" height="79.22" fill="#a6a6a6"/>
<line x1="47.60" y1="576.40" x2="47.60" y2="723.60" stroke="#222" stroke-width="1.3"/>
<line x1="47.00" y1="723.60" x2="236.50" y2="723.60" stroke="#111" stroke-width="1.8"/>
<rect x="199.20" y="599.20" width="3.70" height="124.40" fill="#a6a6a6"/>
<line x1="201.20" y1="599.20" x2="201.20" y2="597.44" stroke="#444" stroke-width="1.1"/>
<line x1="199.20" y1="597.44" x2="203.20" y2="597.44" stroke="#444" stroke-width="1.4300000000000002"/>
<text x="62.70" y="736.10" font-size="10.8" fill="#000" text-anchor="end" font-weight="bold" transform="rotate(-45 62.70 736.10)" font-family='"Liberation Sans", Arial, sans-serif'>RB</text>
<text x="89.82" y="736.10" font-size="10.8" fill="#000" text-anchor="end" font-weight="bold" transform="rotate(-45 89.82 736.10)" font-family='"Liberation Sans", Arial, sans-serif'>BLM</text>
<text x="116.94" y="736.10" font-size="10.8" fill="#000" text-anchor="end" font-weight="bold" transform="rotate(-45 116.94 736.10)" font-family='"Liberation Sans", Arial, sans-serif'>RAD51</text>
<text x="144.06" y="736.10" font-size="10.8" fill="#000" text-anchor="end" font-weight="bold" transform="rotate(-45 144.06 736.10)" font-family='"Liberation Sans", Arial, sans-serif'>EXO1</text>
<text x="171.18" y="736.10" font-size="10.8" fill="#000" text-anchor="end" font-weight="bold" transform="rotate(-45 171.18 736.10)" font-family='"Liberation Sans", Arial, sans-serif'>BRCA1</text>
<text x="198.30" y="736.10" font-size="10.8" fill="#000" text-anchor="end" font-weight="bold" transform="rotate(-45 198.30 736.10)" font-family='"Liberation Sans", Arial, sans-serif'>POLE2</text>
<text x="225.42" y="736.10" font-size="10.8" fill="#000" text-anchor="end" font-weight="bold" transform="rotate(-45 225.42 736.10)" font-family='"Liberation Sans", Arial, sans-serif'>RFC4</text>
<text x="148.90" y="566.00" font-size="12" fill="#222" text-anchor="middle" font-family='"Liberation Sans", Arial, sans-serif'>MRC5-H<tspan font-size="0.8em" dy="0.3em">2</tspan><tspan dy="-0.24em">O</tspan><tspan font-size="0.8em" dy="0.3em">2</tspan></text>
<text x="14.00" y="650.90" font-size="12.5" fill="#222" text-anchor="middle" transform="rotate(-90 14.00 650.90)" font-family='"Liberation Sans", Arial, sans-serif'>mRNA relative level</text>
<rect x="211.00" y="566.30" width="8.00" height="5.60" fill="#000"/>
<text x="224.80" y="571.80" font-size="10.85" fill="#222" text-anchor="start" font-family='"Liberation Sans", Arial, sans-serif'>siCtrl</text>
<rect x="211.00" y="588.00" width="8.00" height="5.60" fill="#595959"/>
<text x="224.80" y="593.50" font-size="10.85" fill="#222" text-anchor="start" font-family='"Liberation Sans", Arial, sans-serif'>siCtrl + H<tspan font-size="0.8em" dy="0.3em">2</tspan><tspan dy="-0.24em">O</tspan><tspan font-size="0.8em" dy="0.3em">2</tspan></text>
<rect x="211.00" y="609.40" width="8.00" height="5.60" fill="#a6a6a6"/>
<text x="224.80" y="614.90" font-size="10.85" fill="#222" text-anchor="start" font-family='"Liberation Sans", Arial, sans-serif'>siRB + H<tspan font-size="0.8em" dy="0.3em">2</tspan><tspan dy="-0.24em">O</tspan><tspan font-size="0.8em" dy="0.3em">2</tspan></text>
<text x="354.40" y="562.50" font-size="20" fill="#000" text-anchor="start" font-weight="bold" font-family='"Liberation Sans", Arial, sans-serif'>f</text>
<line x1="391.20" y1="712.50" x2="394.80" y2="712.50" stroke="#222" stroke-width="1.2"/>
<text x="383.20" y="716.32" font-size="10.6" fill="#5c5c5c" text-anchor="end" font-family='"Liberation Sans", Arial, sans-serif'>0</text>
<line x1="391.20" y1="686.66" x2="394.80" y2="686.66" stroke="#222" stroke-width="1.2"/>
<text x="383.20" y="690.48" font-size="10.6" fill="#5c5c5c" text-anchor="end" font-family='"Liberation Sans", Arial, sans-serif'>1</text>
<line x1="391.20" y1="660.82" x2="394.80" y2="660.82" stroke="#222" stroke-width="1.2"/>
<text x="383.20" y="664.64" font-size="10.6" fill="#5c5c5c" text-anchor="end" font-family='"Liberation Sans", Arial, sans-serif'>2</text>
<line x1="391.20" y1="634.98" x2="394.80" y2="634.98" stroke="#222" stroke-width="1.2"/>
<text x="383.20" y="638.80" font-size="10.6" fill="#5c5c5c" text-anchor="end" font-family='"Liberation Sans", Arial, sans-serif'>3</text>
<line x1="391.20" y1="609.14" x2="394.80" y2="609.14" stroke="#222" stroke-width="1.2"/>
<text x="383.20" y="612.96" font-size="10.6" fill="#5c5c5c" text-anchor="end" font-family='"Liberation Sans", Arial, sans-serif'>4</text>
<line x1="391.20" y1="583.30" x2="394.80" y2="583.30" stroke="#222" stroke-width="1.2"/>
<text x="383.20" y="587.12" font-size="10.6" fill="#5c5c5c" text-anchor="end" font-family='"Liberation Sans", Arial, sans-serif'>5</text>
<line x1="403.88" y1="686.14" x2="403.88" y2="685.37" stroke="#444" stroke-width="1.1"/>
<line x1="400.62" y1="685.37" x2="407.12" y2="685.37" stroke="#444" stroke-width="1.4300000000000002"/>
<rect x="400.30" y="686.14" width="7.15" height="26.36" fill="#000"/>
<line x1="411.02" y1="679.17" x2="411.02" y2="677.36" stroke="#444" stroke-width="1.1"/>
<line x1="407.77" y1="677.36" x2="414.27" y2="677.36" stroke="#444" stroke-width="1.4300000000000002"/>
<rect x="407.45" y="679.17" width="7.15" height="33.33" fill="#595959"/>
<line x1="418.18" y1="706.30" x2="418.18" y2="705.78" stroke="#444" stroke-width="1.1"/>
<line x1="414.93" y1="705.78" x2="421.43" y2="705.78" stroke="#444" stroke-width="1.4300000000000002"/>
<rect x="414.60" y="706.30" width="7.15" height="6.20" fill="#a6a6a6"/>
<line x1="436.57" y1="686.14" x2="436.57" y2="684.59" stroke="#444" stroke-width="1.1"/>
<line x1="433.32" y1="684.59" x2="439.82" y2="684.59" stroke="#444" stroke-width="1.4300000000000002"/>
<rect x="433.00" y="686.14" width="7.15" height="26.36" fill="#000"/>
<line x1="443.72" y1="694.67" x2="443.72" y2="693.38" stroke="#444" stroke-width="1.1"/>
<line x1="440.47" y1="693.38" x2="446.97" y2="693.38" stroke="#444" stroke-width="1.4300000000000002"/>
<rect x="440.15" y="694.67" width="7.15" height="17.83" fill="#595959"/>
<rect x="447.30" y="679.17" width="7.15" height="33.33" fill="#a6a6a6"/>
<line x1="469.28" y1="685.88" x2="469.28" y2="685.11" stroke="#444" stroke-width="1.1"/>
<line x1="466.03" y1="685.11" x2="472.53" y2="685.11" stroke="#444" stroke-width="1.4300000000000002"/>
<rect x="465.70" y="685.88" width="7.15" height="26.62" fill="#000"/>
<rect x="472.85" y="699.06" width="7.15" height="13.44" fill="#595959"/>
<line x1="483.58" y1="675.03" x2="483.58" y2="674.00" stroke="#444" stroke-width="1.1"/>
<line x1="480.33" y1="674.00" x2="486.83" y2="674.00" stroke="#444" stroke-width="1.4300000000000002"/>
<rect x="480.00" y="675.03" width="7.15" height="37.47" fill="#a6a6a6"/>
<line x1="501.98" y1="685.88" x2="501.98" y2="684.08" stroke="#444" stroke-width="1.1"/>
<line x1="498.73" y1="684.08" x2="505.23" y2="684.08" stroke="#444" stroke-width="1.4300000000000002"/>
<rect x="498.40" y="685.88" width="7.15" height="26.62" fill="#000"/>
<line x1="509.12" y1="699.58" x2="509.12" y2="695.96" stroke="#444" stroke-width="1.1"/>
<line x1="505.88" y1="695.96" x2="512.38" y2="695.96" stroke="#444" stroke-width="1.4300000000000002"/>
<rect x="505.55" y="699.58" width="7.15" height="12.92" fill="#595959"/>
<line x1="516.28" y1="685.88" x2="516.28" y2="681.75" stroke="#444" stroke-width="1.1"/>
<line x1="513.03" y1="681.75" x2="519.53" y2="681.75" stroke="#444" stroke-width="1.4300000000000002"/>
<rect x="512.70" y="685.88" width="7.15" height="26.62" fill="#a6a6a6"/>
<line x1="534.68" y1="685.88" x2="534.68" y2="685.37" stroke="#444" stroke-width="1.1"/>
<line x1="531.43" y1="685.37" x2="537.93" y2="685.37" stroke="#444" stroke-width="1.4300000000000002"/>
<rect x="531.10" y="685.88" width="7.15" height="26.62" fill="#000"/>
<line x1="541.83" y1="694.41" x2="541.83" y2="692.86" stroke="#444" stroke-width="1.1"/>
<line x1="538.58" y1="692.86" x2="545.08" y2="692.86" stroke="#444" stroke-width="1.4300000000000002"/>
<rect x="538.25" y="694.41" width="7.15" height="18.09" fill="#595959"/>
<line x1="548.98" y1="638.08" x2="548.98" y2="637.56" stroke="#444" stroke-width="1.1"/>
<line x1="545.73" y1="637.56" x2="552.23" y2="637.56" stroke="#444" stroke-width="1.4300000000000002"/>
<rect x="545.40" y="638.08" width="7.15" height="74.42" fill="#a6a6a6"/>
<line x1="567.38" y1="685.88" x2="567.38" y2="685.37" stroke="#444" stroke-width="1.1"/>
<line x1="564.12" y1="685.37" x2="570.62" y2="685.37" stroke="#444" stroke-width="1.4300000000000002"/>
<rect x="563.80" y="685.88" width="7.15" height="26.62" fill="#000"/>
<rect x="570.95" y="701.13" width="7.15" height="11.37" fill="#595959"/>
<line x1="581.67" y1="600.10" x2="581.67" y2="599.32" stroke="#444" stroke-width="1.1"/>
<line x1="578.42" y1="599.32" x2="584.92" y2="599.32" stroke="#444" stroke-width="1.4300000000000002"/>
<rect x="578.10" y="600.10" width="7.15" height="112.40" fill="#a6a6a6"/>
<line x1="600.08" y1="686.14" x2="600.08" y2="685.37" stroke="#444" stroke-width="1.1"/>
<line x1="596.83" y1="685.37" x2="603.33" y2="685.37" stroke="#444" stroke-width="1.4300000000000002"/>
<rect x="596.50" y="686.14" width="7.15" height="26.36" fill="#000"/>
<rect x="603.65" y="698.55" width="7.15" height="13.95" fill="#595959"/>
<line x1="614.38" y1="633.17" x2="614.38" y2="632.40" stroke="#444" stroke-width="1.1"/>
<line x1="611.12" y1="632.40" x2="617.62" y2="632.40" stroke="#444" stroke-width="1.4300000000000002"/>
<rect x="610.80" y="633.17" width="7.15" height="79.33" fill="#a6a6a6"/>
<line x1="394.80" y1="582.80" x2="394.80" y2="712.50" stroke="#222" stroke-width="1.3"/>
<line x1="394.20" y1="712.50" x2="623.90" y2="712.50" stroke="#111" stroke-width="1.8"/>
<text x="413.20" y="725.00" font-size="10.8" fill="#000" text-anchor="end" font-weight="bold" transform="rotate(-45 413.20 725.00)" font-family='"Liberation Sans", Arial, sans-serif'>RB</text>
<text x="445.90" y="725.00" font-size="10.8" fill="#000" text-anchor="end" font-weight="bold" transform="rotate(-45 445.90 725.00)" font-family='"Liberation Sans", Arial, sans-serif'>BLM</text>
<text x="478.60" y="725.00" font-size="10.8" fill="#000" text-anchor="end" font-weight="bold" transform="rotate(-45 478.60 725.00)" font-family='"Liberation Sans", Arial, sans-serif'>RAD51</text>
<text x="511.30" y="725.00" font-size="10.8" fill="#000" text-anchor="end" font-weight="bold" transform="rotate(-45 511.30 725.00)" font-family='"Liberation Sans", Arial, sans-serif'>EXO1</text>
<text x="544.00" y="725.00" font-size="10.8" fill="#000" text-anchor="end" font-weight="bold" transform="rotate(-45 544.00 725.00)" font-family='"Liberation Sans", Arial, sans-serif'>BRCA1</text>
<text x="576.70" y="725.00" font-size="10.8" fill="#000" text-anchor="end" font-weight="bold" transform="rotate(-45 576.70 725.00)" font-family='"Liberation Sans", Arial, sans-serif'>POLE2</text>
<text x="609.40" y="725.00" font-size="10.8" fill="#000" text-anchor="end" font-weight="bold" transform="rotate(-45 609.40 725.00)" font-family='"Liberation Sans", Arial, sans-serif'>RFC4</text>
<text x="509.90" y="559.70" font-size="12" fill="#222" text-anchor="middle" font-family='"Liberation Sans", Arial, sans-serif'>MRC5-RAF</text>
<text x="370.80" y="648.20" font-size="12.3" fill="#222" text-anchor="middle" transform="rotate(-90 370.80 648.20)" font-family='"Liberation Sans", Arial, sans-serif'>mRNA relative level</text>
<rect x="599.20" y="561.90" width="9.20" height="6.30" fill="#000"/>
<text x="613.30" y="568.30" font-size="10.5" fill="#222" text-anchor="start" font-family='"Liberation Sans", Arial, sans-serif'>siCtrl</text>
<rect x="599.20" y="584.80" width="9.20" height="6.30" fill="#595959"/>
<text x="613.30" y="591.20" font-size="10.5" fill="#222" text-anchor="start" font-family='"Liberation Sans", Arial, sans-serif'>siCtrl + 4-OHT</text>
<rect x="599.20" y="607.60" width="9.20" height="6.30" fill="#a6a6a6"/>
<text x="613.30" y="614.00" font-size="10.5" fill="#222" text-anchor="start" font-family='"Liberation Sans", Arial, sans-serif'>siRB + 4-OHT</text>
<text x="0.90" y="789.40" font-size="19.5" fill="#000" text-anchor="start" font-weight="bold" font-family='"Liberation Sans", Arial, sans-serif'>g</text>
<line x1="42.00" y1="950.60" x2="46.40" y2="950.60" stroke="#222" stroke-width="1.2"/>
<text x="37.00" y="954.78" font-size="11.6" fill="#333" text-anchor="end" font-family='"Liberation Sans", Arial, sans-serif'>0</text>
<line x1="42.00" y1="925.44" x2="46.40" y2="925.44" stroke="#222" stroke-width="1.2"/>
<text x="37.00" y="929.62" font-size="11.6" fill="#333" text-anchor="end" font-family='"Liberation Sans", Arial, sans-serif'>0.2</text>
<line x1="42.00" y1="900.28" x2="46.40" y2="900.28" stroke="#222" stroke-width="1.2"/>
<text x="37.00" y="904.46" font-size="11.6" fill="#333" text-anchor="end" font-family='"Liberation Sans", Arial, sans-serif'>0.4</text>
<line x1="42.00" y1="875.12" x2="46.40" y2="875.12" stroke="#222" stroke-width="1.2"/>
<text x="37.00" y="879.30" font-size="11.6" fill="#333" text-anchor="end" font-family='"Liberation Sans", Arial, sans-serif'>0.6</text>
<line x1="42.00" y1="849.96" x2="46.40" y2="849.96" stroke="#222" stroke-width="1.2"/>
<text x="37.00" y="854.14" font-size="11.6" fill="#333" text-anchor="end" font-family='"Liberation Sans", Arial, sans-serif'>0.8</text>
<line x1="42.00" y1="824.80" x2="46.40" y2="824.80" stroke="#222" stroke-width="1.2"/>
<text x="37.00" y="828.98" font-size="11.6" fill="#333" text-anchor="end" font-family='"Liberation Sans", Arial, sans-serif'>1</text>
<line x1="42.00" y1="799.64" x2="46.40" y2="799.64" stroke="#222" stroke-width="1.2"/>
<text x="37.00" y="803.82" font-size="11.6" fill="#333" text-anchor="end" font-family='"Liberation Sans", Arial, sans-serif'>1.2</text>
<line x1="57.35" y1="824.80" x2="57.35" y2="818.51" stroke="#444" stroke-width="1.1"/>
<line x1="53.85" y1="818.51" x2="60.85" y2="818.51" stroke="#444" stroke-width="1.4300000000000002"/>
<rect x="53.40" y="824.80" width="7.90" height="125.80" fill="#000"/>
<line x1="65.85" y1="920.41" x2="65.85" y2="916.63" stroke="#444" stroke-width="1.1"/>
<line x1="62.35" y1="916.63" x2="69.35" y2="916.63" stroke="#444" stroke-width="1.4300000000000002"/>
<rect x="61.90" y="920.41" width="7.90" height="30.19" fill="#808080"/>
<line x1="87.95" y1="824.80" x2="87.95" y2="814.74" stroke="#444" stroke-width="1.1"/>
<line x1="84.45" y1="814.74" x2="91.45" y2="814.74" stroke="#444" stroke-width="1.4300000000000002"/>
<rect x="84.00" y="824.80" width="7.90" height="125.80" fill="#000"/>
<line x1="96.45" y1="867.57" x2="96.45" y2="858.77" stroke="#444" stroke-width="1.1"/>
<line x1="92.95" y1="858.77" x2="99.95" y2="858.77" stroke="#444" stroke-width="1.4300000000000002"/>
<rect x="92.50" y="867.57" width="7.90" height="83.03" fill="#808080"/>
<line x1="118.55" y1="824.80" x2="118.55" y2="815.99" stroke="#444" stroke-width="1.1"/>
<line x1="115.05" y1="815.99" x2="122.05" y2="815.99" stroke="#444" stroke-width="1.4300000000000002"/>
<rect x="114.60" y="824.80" width="7.90" height="125.80" fill="#000"/>
<line x1="127.05" y1="866.31" x2="127.05" y2="861.28" stroke="#444" stroke-width="1.1"/>
<line x1="123.55" y1="861.28" x2="130.55" y2="861.28" stroke="#444" stroke-width="1.4300000000000002"/>
<rect x="123.10" y="866.31" width="7.90" height="84.29" fill="#808080"/>
<line x1="149.15" y1="824.80" x2="149.15" y2="813.48" stroke="#444" stroke-width="1.1"/>
<line x1="145.65" y1="813.48" x2="152.65" y2="813.48" stroke="#444" stroke-width="1.4300000000000002"/>
<rect x="145.20" y="824.80" width="7.90" height="125.80" fill="#000"/>
<line x1="157.65" y1="875.12" x2="157.65" y2="870.09" stroke="#444" stroke-width="1.1"/>
<line x1="154.15" y1="870.09" x2="161.15" y2="870.09" stroke="#444" stroke-width="1.4300000000000002"/>
<rect x="153.70" y="875.12" width="7.90" height="75.48" fill="#808080"/>
<line x1="179.75" y1="824.80" x2="179.75" y2="817.25" stroke="#444" stroke-width="1.1"/>
<line x1="176.25" y1="817.25" x2="183.25" y2="817.25" stroke="#444" stroke-width="1.4300000000000002"/>
<rect x="175.80" y="824.80" width="7.90" height="125.80" fill="#000"/>
<line x1="188.25" y1="872.60" x2="188.25" y2="866.31" stroke="#444" stroke-width="1.1"/>
<line x1="184.75" y1="866.31" x2="191.75" y2="866.31" stroke="#444" stroke-width="1.4300000000000002"/>
<rect x="184.30" y="872.60" width="7.90" height="78.00" fill="#808080"/>
<line x1="210.35" y1="824.80" x2="210.35" y2="818.51" stroke="#444" stroke-width="1.1"/>
<line x1="206.85" y1="818.51" x2="213.85" y2="818.51" stroke="#444" stroke-width="1.4300000000000002"/>
<rect x="206.40" y="824.80" width="7.90" height="125.80" fill="#000"/>
<line x1="218.85" y1="875.12" x2="218.85" y2="870.09" stroke="#444" stroke-width="1.1"/>
<line x1="215.35" y1="870.09" x2="222.35" y2="870.09" stroke="#444" stroke-width="1.4300000000000002"/>
<rect x="214.90" y="875.12" width="7.90" height="75.48" fill="#808080"/>
<line x1="240.95" y1="824.80" x2="240.95" y2="814.74" stroke="#444" stroke-width="1.1"/>
<line x1="237.45" y1="814.74" x2="244.45" y2="814.74" stroke="#444" stroke-width="1.4300000000000002"/>
<rect x="237.00" y="824.80" width="7.90" height="125.80" fill="#000"/>
<line x1="249.45" y1="868.83" x2="249.45" y2="863.80" stroke="#444" stroke-width="1.1"/>
<line x1="245.95" y1="863.80" x2="252.95" y2="863.80" stroke="#444" stroke-width="1.4300000000000002"/>
<rect x="245.50" y="868.83" width="7.90" height="81.77" fill="#808080"/>
<line x1="46.40" y1="799.14" x2="46.40" y2="950.60" stroke="#222" stroke-width="1.3"/>
<line x1="42.90" y1="950.60" x2="259.50" y2="950.60" stroke="#111" stroke-width="1.8"/>
<text x="63.80" y="963.10" font-size="10.8" fill="#000" text-anchor="end" font-weight="bold" transform="rotate(-45 63.80 963.10)" font-family='"Liberation Sans", Arial, sans-serif'>E2F1</text>
<text x="94.40" y="963.10" font-size="10.8" fill="#000" text-anchor="end" font-weight="bold" transform="rotate(-45 94.40 963.10)" font-family='"Liberation Sans", Arial, sans-serif'>BLM</text>
<text x="125.00" y="963.10" font-size="10.8" fill="#000" text-anchor="end" font-weight="bold" transform="rotate(-45 125.00 963.10)" font-family='"Liberation Sans", Arial, sans-serif'>RAD51</text>
<text x="155.60" y="963.10" font-size="10.8" fill="#000" text-anchor="end" font-weight="bold" transform="rotate(-45 155.60 963.10)" font-family='"Liberation Sans", Arial, sans-serif'>EXO1</text>
<text x="186.20" y="963.10" font-size="10.8" fill="#000" text-anchor="end" font-weight="bold" transform="rotate(-45 186.20 963.10)" font-family='"Liberation Sans", Arial, sans-serif'>BRCA1</text>
<text x="216.80" y="963.10" font-size="10.8" fill="#000" text-anchor="end" font-weight="bold" transform="rotate(-45 216.80 963.10)" font-family='"Liberation Sans", Arial, sans-serif'>POLE2</text>
<text x="247.40" y="963.10" font-size="10.8" fill="#000" text-anchor="end" font-weight="bold" transform="rotate(-45 247.40 963.10)" font-family='"Liberation Sans", Arial, sans-serif'>RFC4</text>
<text x="14.60" y="874.80" font-size="10.9" fill="#222" text-anchor="middle" transform="rotate(-90 14.60 874.80)" font-family='"Liberation Sans", Arial, sans-serif'>mRNA relative level</text>
<rect x="267.40" y="829.30" width="5.40" height="5.20" fill="#000"/>
<text x="275.60" y="835.40" font-size="10.6" fill="#222" text-anchor="start" font-family='"Liberation Sans", Arial, sans-serif'>siCtrl</text>
<rect x="267.40" y="849.60" width="5.40" height="5.20" fill="#808080"/>
<text x="275.60" y="855.70" font-size="10.6" fill="#222" text-anchor="start" font-family='"Liberation Sans", Arial, sans-serif'>siE2F1</text>
</svg></body></html>
